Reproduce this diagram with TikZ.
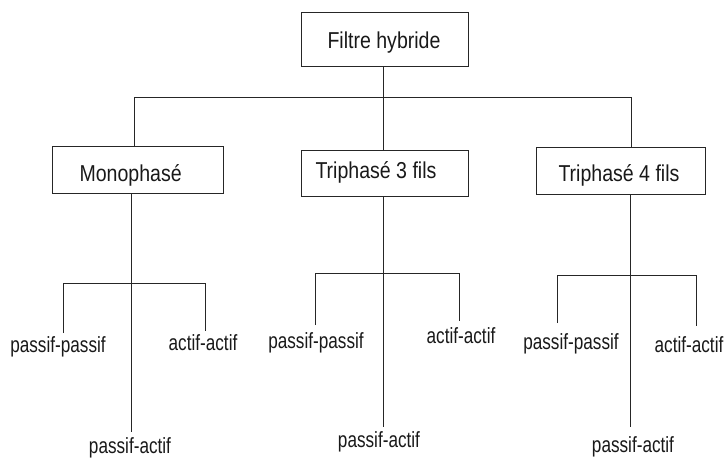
\documentclass[tikz,border=0pt]{standalone}
\usepackage{fontspec}
\newfontfamily\boxfont{Liberation Sans}[FakeStretch=0.85]
\newfontfamily\leaffont{Liberation Sans}[FakeStretch=0.78]
\begin{document}
\begin{tikzpicture}[x=1pt,y=-1pt,
  wire/.style={draw=black!85, line width=1pt},
  catbox/.style={draw=black!85, line width=1pt, inner sep=0pt, anchor=base west,
    font=\boxfont\fontsize{23}{26}\selectfont, text=black!90},
  leaf/.style={anchor=base, inner sep=1pt,
    font=\leaffont\fontsize{22}{24}\selectfont, text=black!90}]
\useasboundingbox (0,0) rectangle (726,459);

% root
\node[catbox, text height=36pt, text depth=18pt] (root) at (301,48)
  {\makebox[167pt][l]{\hspace{26pt}Filtre hybride}};

% second level
\node[catbox, text height=35pt, text depth=12pt] (mono) at (52,181)
  {\makebox[171pt][l]{\hspace{27pt}Monophasé}};
\node[catbox, text height=28pt, text depth=18pt] (tri3) at (301,178)
  {\makebox[167pt][l]{\hspace{14pt}Triphasé 3 fils}};
\node[catbox, text height=34pt, text depth=13pt] (tri4) at (536,181)
  {\makebox[169pt][l]{\hspace{22pt}Triphasé 4 fils}};

% distribution bar under the root
\coordinate (hL) at (134,97);
\coordinate (hM) at (383,97);
\coordinate (hR) at (631,97);
\draw[wire] (hL) -- (hR);
\draw[wire] (hM |- root.south) -- (hM |- tri3.north);
\draw[wire] (hL) -- (hL |- mono.north);
\draw[wire] (hR) -- (hR |- tri4.north);

% leaves
\node[leaf] (mpp) at (58,352) {passif-passif};
\node[leaf] (maa) at (203,350) {actif-actif};
\node[leaf] (mpa) at (130,453) {passif-actif};
\node[leaf] (tpp3) at (316,348) {passif-passif};
\node[leaf] (taa3) at (461,343) {actif-actif};
\node[leaf] (tpa3) at (379,447) {passif-actif};
\node[leaf] (tpp4) at (571,349) {passif-passif};
\node[leaf] (taa4) at (689,352) {actif-actif};
\node[leaf] (tpa4) at (633,452) {passif-actif};

% Monophasé branch
\coordinate (mC) at (131,432);
\coordinate (mL) at (63,283);
\coordinate (mR) at (205,283);
\coordinate (mLe) at (63,333);
\coordinate (mRe) at (205,331);
\draw[wire] (mC |- mono.south) -- (mC);
\draw[wire] (mLe) -- (mL) -- (mR) -- (mRe);

% Triphasé 3 fils branch
\coordinate (tC3) at (383,427);
\coordinate (tL3) at (315,273);
\coordinate (tR3) at (459,273);
\coordinate (tLe3) at (315,325);
\coordinate (tRe3) at (459,321);
\draw[wire] (tC3 |- tri3.south) -- (tC3);
\draw[wire] (tLe3) -- (tL3) -- (tR3) -- (tRe3);

% Triphasé 4 fils branch
\coordinate (tC4) at (630,427);
\coordinate (tL4) at (557,275);
\coordinate (tR4) at (696,275);
\coordinate (tLe4) at (557,323);
\coordinate (tRe4) at (696,326);
\draw[wire] (tC4 |- tri4.south) -- (tC4);
\draw[wire] (tLe4) -- (tL4) -- (tR4) -- (tRe4);
\end{tikzpicture}
\end{document}
